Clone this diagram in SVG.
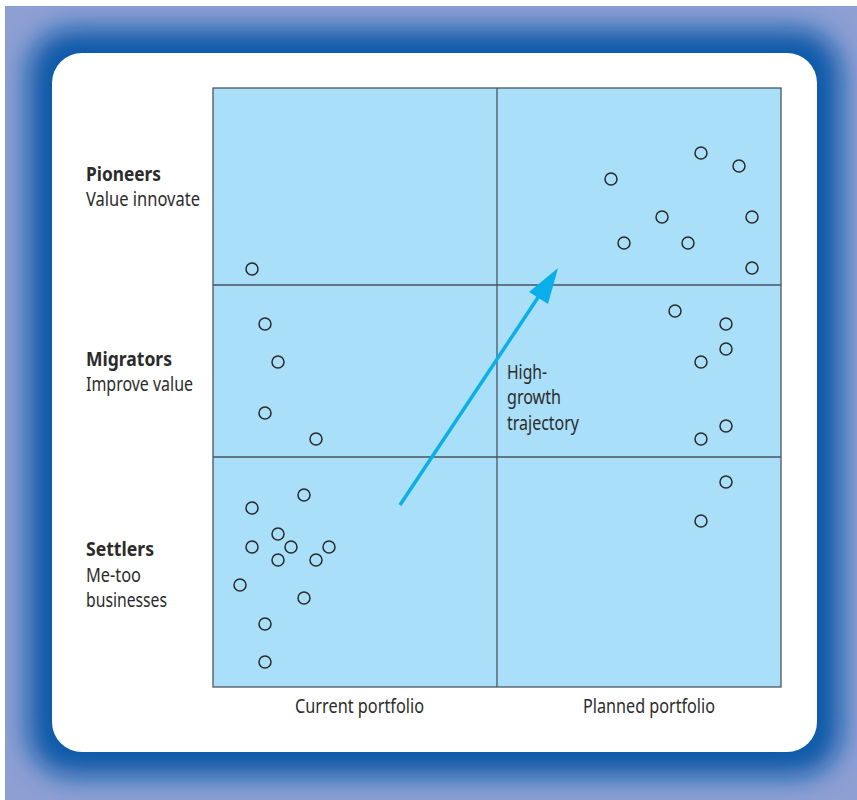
<svg xmlns="http://www.w3.org/2000/svg" width="857" height="800" viewBox="0 0 857 800">
<style>
.lbl{font-family:"Noto Sans","Open Sans","DejaVu Sans",sans-serif;font-size:20px;fill:#2b2b2b}
.b{font-weight:bold}
.pt{fill:none;stroke:#2a2a2a;stroke-width:1.5}
.grid{stroke:#4a5560;stroke-width:1.3;fill:none}
.cell{stroke:#4a5560;stroke-width:1.3;fill:#a9dff8}
</style>
<defs>
<filter id="glow" x="-20%" y="-20%" width="140%" height="140%"><feGaussianBlur stdDeviation="13"/></filter>
<clipPath id="fr"><rect x="5" y="6" width="852" height="794"/></clipPath>
</defs>
<g id="frame">
<rect x="5" y="6" width="852" height="794" fill="#8d9fd3"/>
<g clip-path="url(#fr)"><rect x="28" y="29" width="813" height="747" rx="45" fill="#0a5aa9" filter="url(#glow)"/></g>
<rect x="52" y="53" width="765" height="699" rx="30" fill="#ffffff"/>
</g>
<g id="grid">
<rect x="213" y="88" width="568" height="599" class="cell"/>
<line x1="497" y1="88" x2="497" y2="687" class="grid"/>
<line x1="213" y1="285" x2="781" y2="285" class="grid"/>
<line x1="213" y1="457" x2="781" y2="457" class="grid"/>
</g>
<g id="row-labels">
<g id="pioneers"><text class="lbl b" x="86" y="181" textLength="75" lengthAdjust="spacingAndGlyphs">Pioneers</text><text class="lbl" x="86" y="206" textLength="114" lengthAdjust="spacingAndGlyphs">Value innovate</text></g>
<g id="migrators"><text class="lbl b" x="86" y="366" textLength="86" lengthAdjust="spacingAndGlyphs">Migrators</text><text class="lbl" x="86" y="391" textLength="107" lengthAdjust="spacingAndGlyphs">Improve value</text></g>
<g id="settlers"><text class="lbl b" x="86" y="556" textLength="68" lengthAdjust="spacingAndGlyphs">Settlers</text><text class="lbl" x="86" y="582" textLength="55" lengthAdjust="spacingAndGlyphs">Me-too</text><text class="lbl" x="86" y="607" textLength="81" lengthAdjust="spacingAndGlyphs">businesses</text></g>
</g>
<g id="col-labels">
<text class="lbl" x="295" y="713" textLength="129" lengthAdjust="spacingAndGlyphs">Current portfolio</text>
<text class="lbl" x="583" y="713" textLength="132" lengthAdjust="spacingAndGlyphs">Planned portfolio</text>
</g>
<g id="points">
<circle class="pt" cx="701" cy="153" r="6"/><circle class="pt" cx="739" cy="166" r="6"/><circle class="pt" cx="611" cy="179" r="6"/><circle class="pt" cx="662" cy="217" r="6"/><circle class="pt" cx="752" cy="217" r="6"/><circle class="pt" cx="624" cy="243" r="6"/><circle class="pt" cx="688" cy="243" r="6"/><circle class="pt" cx="752" cy="268" r="6"/>
<circle class="pt" cx="252" cy="269" r="6"/>
<circle class="pt" cx="265" cy="324" r="6"/><circle class="pt" cx="278" cy="362" r="6"/><circle class="pt" cx="265" cy="413" r="6"/><circle class="pt" cx="316" cy="439" r="6"/>
<circle class="pt" cx="675" cy="311" r="6"/><circle class="pt" cx="726" cy="324" r="6"/><circle class="pt" cx="726" cy="349" r="6"/><circle class="pt" cx="701" cy="362" r="6"/><circle class="pt" cx="726" cy="426" r="6"/><circle class="pt" cx="701" cy="439" r="6"/>
<circle class="pt" cx="726" cy="482" r="6"/><circle class="pt" cx="701" cy="521" r="6"/>
<circle class="pt" cx="304" cy="495" r="6"/><circle class="pt" cx="252" cy="508" r="6"/><circle class="pt" cx="278" cy="534" r="6"/><circle class="pt" cx="252" cy="547" r="6"/><circle class="pt" cx="291" cy="547" r="6"/><circle class="pt" cx="329" cy="547" r="6"/><circle class="pt" cx="278" cy="560" r="6"/><circle class="pt" cx="316" cy="560" r="6"/><circle class="pt" cx="240" cy="585" r="6"/><circle class="pt" cx="304" cy="598" r="6"/><circle class="pt" cx="265" cy="624" r="6"/><circle class="pt" cx="265" cy="662" r="6"/>
</g>
<g id="connectors">
<line x1="400" y1="505" x2="543" y2="290" stroke="#0aafe9" stroke-width="3.5"/>
<polygon points="558,268 529,292 548,304" fill="#0aafe9"/>
</g>
<g id="trajectory-label">
<text class="lbl" x="507" y="379" textLength="40" lengthAdjust="spacingAndGlyphs">High-</text>
<text class="lbl" x="507" y="404" textLength="54" lengthAdjust="spacingAndGlyphs">growth</text>
<text class="lbl" x="507" y="430" textLength="72" lengthAdjust="spacingAndGlyphs">trajectory</text>
</g>
</svg>
